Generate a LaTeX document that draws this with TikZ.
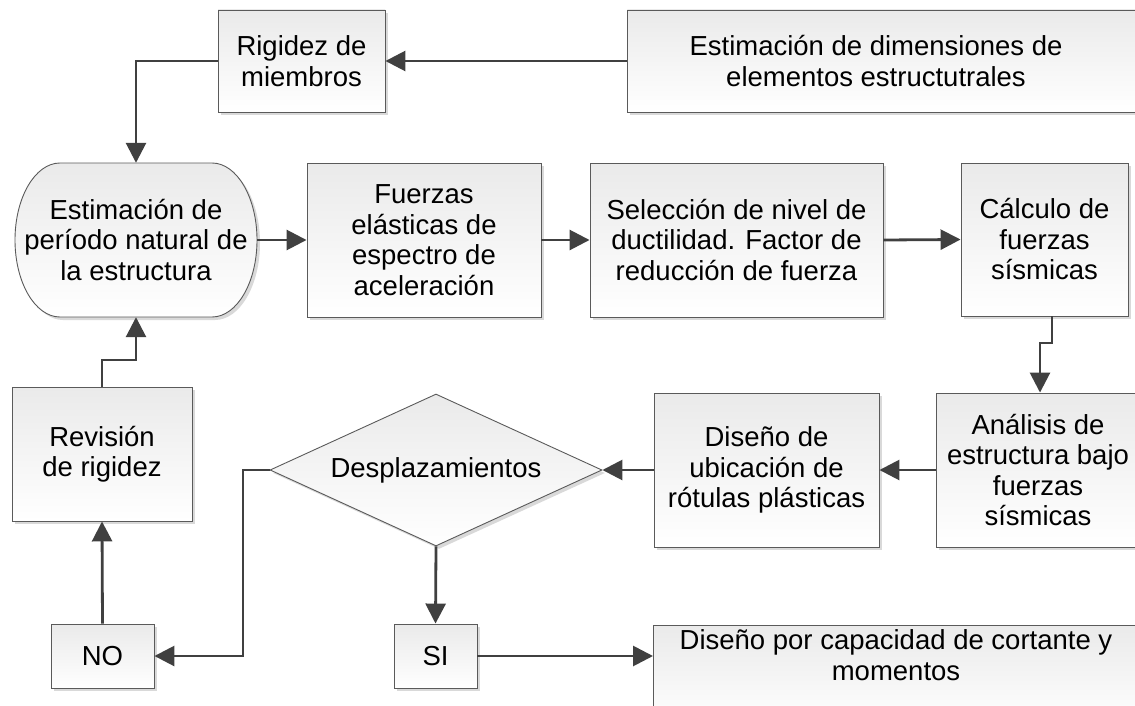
\documentclass[tikz,border=0pt]{standalone}
\usepackage{fontspec}
\setmainfont{Liberation Sans}
\usetikzlibrary{shapes.geometric,shadows,arrows.meta}
\definecolor{lc}{HTML}{404040}
\definecolor{bc}{HTML}{5A5A5A}
\definecolor{tc}{HTML}{EAEAEA}
\tikzset{
  fc/.style={draw=bc, line width=0.9pt, top color=tc, bottom color=white,
    drop shadow={shadow xshift=3pt, shadow yshift=-3pt, fill=black!15, opacity=1}},
  lbl/.style={align=center, font=\fontsize{27.5}{30.5}\selectfont, text=black},
  box/.style={fc, lbl, rectangle, inner sep=0pt},
  conn/.style={draw=lc, line width=2.8pt, -{Triangle[length=20pt,width=20pt]}},
}
\begin{document}
\begin{tikzpicture}[x=1pt,y=-1pt]
\useasboundingbox (0,0) rectangle (1135,706);
\clip (0,0) rectangle (1135,706);
% top row
\node[box, minimum width=167pt, minimum height=102pt] (rig) at (301.5,61) {Rigidez de\\miembros};
\node[box, minimum width=530pt, minimum height=102pt, anchor=west] (dims) at (627,61) {};
\node[lbl] (dimst) at (876,61) {Estimación de dimensiones de\\elementos estructutrales};
% period (stadium)
\path[fc] (60,163) -- (212,163) arc[start angle=90, end angle=-90, x radius=45pt, y radius=77pt]
  -- (60,317) arc[start angle=270, end angle=90, x radius=45pt, y radius=77pt] -- cycle;
\node[lbl, minimum width=242pt, minimum height=154pt, inner sep=0pt] (per) at (136,240) {Estimación de\\período natural de\\la estructura};
% second row
\node[box, minimum width=234pt, minimum height=154pt] (fue) at (424,240) {Fuerzas\\elásticas de\\espectro de\\aceleración};
\node[box, minimum width=293pt, minimum height=154pt] (sel) at (736.5,240) {Selección de nivel de\\ductilidad. Factor de\\reducción de fuerza};
\node[box, minimum width=167pt, minimum height=153pt] (cal) at (1044.5,239.5) {Cálculo de\\fuerzas\\sísmicas};
% third row
\node[box, minimum width=204pt, minimum height=154pt] (ana) at (1038,470) {Análisis de\\estructura bajo\\fuerzas\\sísmicas};
\node[box, minimum width=225pt, minimum height=154pt] (rot) at (766.5,470) {Diseño de\\ubicación de\\rótulas plásticas};
\node[fc, lbl, shape=diamond, aspect=2.18, minimum width=332pt, minimum height=152pt, inner sep=0pt] (dia) at (436,470) {Desplazamientos};
\node[box, minimum width=180pt, minimum height=134pt] (rev) at (102,454) {Revisión\\de rigidez};
% bottom row
\node[box, minimum width=103pt, minimum height=64pt] (no) at (102.5,656) {NO};
\node[box, minimum width=83pt, minimum height=64pt] (si) at (435.5,656) {SI};
\node[box, minimum width=500pt, minimum height=100pt, anchor=north west] (cap) at (653,625) {};
\node[lbl] (capt) at (896,655) {Diseño por capacidad de cortante y\\momentos};
% connectors
\coordinate (c1) at (1052,343);
\coordinate (c2) at (1040,343);
\coordinate (c3) at (243,470);
\coordinate (c4) at (136,360);
\draw[conn] (dims.west) -- (rig.east);
\draw[conn] (rig.west) -| (per.north);
\draw[conn] (per.east) -- (fue.west);
\draw[conn] (fue.east) -- (sel.west);
\draw[conn] (sel.east) -- (cal.west);
\draw[conn] (c1 |- cal.south) -- (c1) -- (c2) -- (c2 |- ana.north);
\draw[conn] (ana.west) -- (rot.east);
\draw[conn] (rot.west) -- (dia.east);
\draw[conn] (dia.west) -- (c3) |- (no.east);
\draw[conn] (dia.south) -- (si.north);
\draw[conn] (si.east) -- (si.east -| cap.west);
\draw[conn] (no.north) -- (rev.south);
\draw[conn] (rev.north) |- (c4) -- (per.south);
\end{tikzpicture}
\end{document}
